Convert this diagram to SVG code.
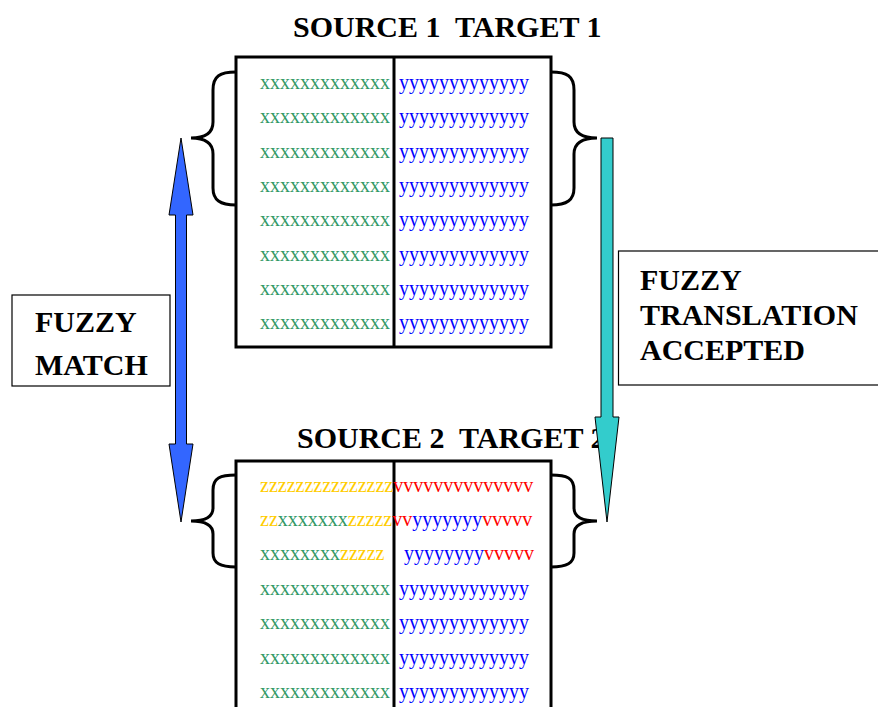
<svg xmlns="http://www.w3.org/2000/svg" width="878" height="707" viewBox="0 0 878 707">
<style>
.t{font-family:"Liberation Serif","Times New Roman",serif;font-size:20px}
.g{fill:#339966}.b{fill:#0000FF}.yl{fill:#FFCC00}.r{fill:#FF0000}
.lbl{font-family:"Liberation Serif","Times New Roman",serif;font-size:30px;font-weight:bold;fill:#000}
.box{fill:#fff;stroke:#000;stroke-width:3}
.brace{fill:none;stroke:#000;stroke-width:3}
.note{fill:#fff;stroke:#000;stroke-width:1.2}
</style>
<rect width="878" height="707" fill="#fff"/>

<g id="title1"><text class="lbl" x="293" y="37" xml:space="preserve">SOURCE 1  TARGET 1</text></g>

<g id="table1">
<rect class="box" x="236" y="57" width="315" height="290"/>
<line x1="394" y1="57" x2="394" y2="347" stroke="#000" stroke-width="3"/>
<g class="t">
<text class="g" x="260" y="89">xxxxxxxxxxxxx</text><text class="b" x="399" y="89">yyyyyyyyyyyyy</text>
<text class="g" x="260" y="123.3">xxxxxxxxxxxxx</text><text class="b" x="399" y="123.3">yyyyyyyyyyyyy</text>
<text class="g" x="260" y="157.6">xxxxxxxxxxxxx</text><text class="b" x="399" y="157.6">yyyyyyyyyyyyy</text>
<text class="g" x="260" y="192">xxxxxxxxxxxxx</text><text class="b" x="399" y="192">yyyyyyyyyyyyy</text>
<text class="g" x="260" y="226.3">xxxxxxxxxxxxx</text><text class="b" x="399" y="226.3">yyyyyyyyyyyyy</text>
<text class="g" x="260" y="260.6">xxxxxxxxxxxxx</text><text class="b" x="399" y="260.6">yyyyyyyyyyyyy</text>
<text class="g" x="260" y="295">xxxxxxxxxxxxx</text><text class="b" x="399" y="295">yyyyyyyyyyyyy</text>
<text class="g" x="260" y="329.3">xxxxxxxxxxxxx</text><text class="b" x="399" y="329.3">yyyyyyyyyyyyy</text>
</g>
</g>

<g id="title2"><text class="lbl" x="297" y="448" xml:space="preserve">SOURCE 2  TARGET 2</text></g>

<g id="table2">
<rect class="box" x="236" y="461" width="315" height="260"/>
<line x1="394" y1="461" x2="394" y2="721" stroke="#000" stroke-width="3"/>
<g class="t">
<text x="260" y="491.5"><tspan class="yl">zzzzzzzzzzzzzzz</tspan><tspan class="r">vvvvvvvvvvvvvv</tspan></text>
<text x="260" y="525.9"><tspan class="yl">zz</tspan><tspan class="g">xxxxxxx</tspan><tspan class="yl">zzzzz</tspan><tspan class="r">vv</tspan><tspan class="b">yyyyyyy</tspan><tspan class="r">vvvvv</tspan></text>
<text x="260" y="560.3"><tspan class="g">xxxxxxxx</tspan><tspan class="yl">zzzzz</tspan></text>
<text x="404" y="560.3"><tspan class="b">yyyyyyyy</tspan><tspan class="r">vvvvv</tspan></text>
<text class="g" x="260" y="594.7">xxxxxxxxxxxxx</text><text class="b" x="399" y="594.7">yyyyyyyyyyyyy</text>
<text class="g" x="260" y="629.1">xxxxxxxxxxxxx</text><text class="b" x="399" y="629.1">yyyyyyyyyyyyy</text>
<text class="g" x="260" y="663.5">xxxxxxxxxxxxx</text><text class="b" x="399" y="663.5">yyyyyyyyyyyyy</text>
<text class="g" x="260" y="697.9">xxxxxxxxxxxxx</text><text class="b" x="399" y="697.9">yyyyyyyyyyyyy</text>
</g>
</g>

<g id="fuzzy-match">
<rect class="note" x="12" y="295" width="158" height="91"/>
<text class="lbl" x="35" y="332">FUZZY</text>
<text class="lbl" x="35" y="375">MATCH</text>
</g>

<g id="fuzzy-accepted">
<rect class="note" x="618.5" y="251" width="270" height="134"/>
<text class="lbl" x="640" y="290">FUZZY</text>
<text class="lbl" x="640" y="325">TRANSLATION</text>
<text class="lbl" x="640" y="360">ACCEPTED</text>
</g>

<g id="connectors">
<path class="brace" d="M236,72 C220,72 213,76 213,90 L213,122 C213,133 205,138 191,138 C205,138 213,143 213,154 L213,188 C213,200 220,205 236,205"/>
<path class="brace" d="M551,72 C567,72 574,76 574,90 L574,122 C574,133 582,138 597,138 C582,138 574,143 574,154 L574,188 C574,200 567,205 551,205"/>
<path class="brace" d="M236,475 C220,475 213,478 213,490 L213,508 C213,517 205,521 191,521 C205,521 213,525 213,534 L213,553 C213,563 220,567 236,567"/>
<path class="brace" d="M551,475 C567,475 574,478 574,490 L574,508 C574,517 582,521 597,521 C582,521 574,525 574,534 L574,553 C574,563 567,567 551,567"/>
<polygon points="181,138 193,215 186.5,215 186.5,444 193,444 181,522 169,444 175.5,444 175.5,215 169,215" fill="#3366FF" stroke="#000" stroke-width="1"/>
<polygon points="601,138 613,138 613,417 619,417 607,522 595,417 601,417" fill="#33CCCC" stroke="#000" stroke-width="1"/>
</g>
</svg>
